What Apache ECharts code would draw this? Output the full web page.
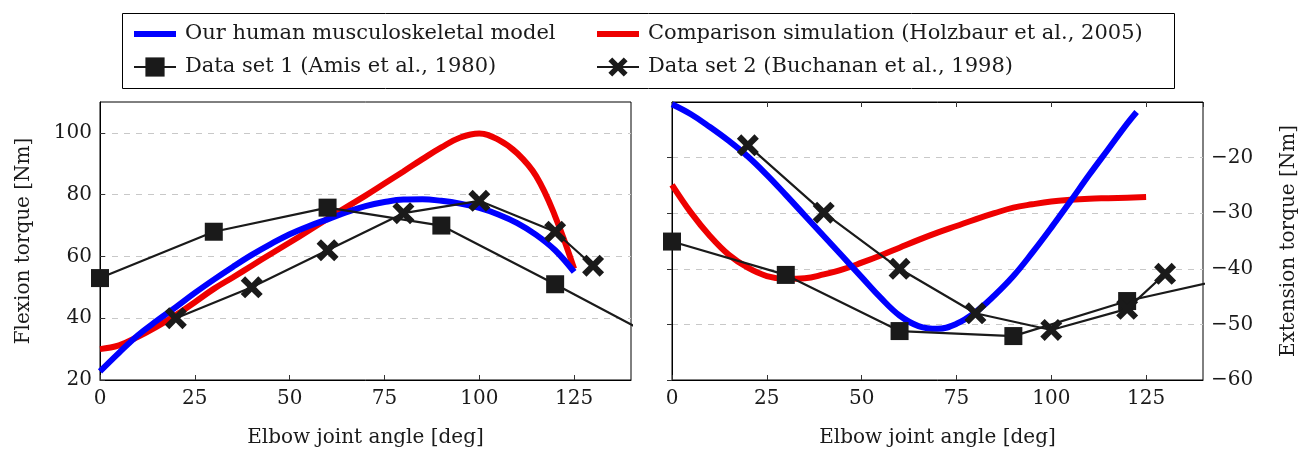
<!DOCTYPE html>
<html lang="en">
<head>
    <meta charset="UTF-8">
    <title>Elbow torque</title>
    <script src="https://cdn.jsdelivr.net/npm/echarts@6/dist/echarts.min.js"></script>
</head>
<body style="margin: 0;">
<div id="main" style="width: 1311px; height: 453px;"></div>
</body>
<script>
    // ---- data: flexion (left) ----
    var flexModelX = [0, 5, 10, 15, 20, 25, 30, 35, 40, 45, 50, 55, 60, 65, 70, 75, 80, 85, 90, 95, 100, 105, 110, 115, 120, 125]
    var flexModelY = [22.8, 28.8, 34.5, 39.2, 43.6, 48.2, 52.5, 56.6, 60.5, 64, 67.2, 69.8, 72, 74.3, 76.3, 77.6, 78.4, 78.5, 78, 77.1, 75.7, 73.6, 70.8, 67, 62, 55]
    var flexHolzX = [0, 5, 10, 15, 20, 25, 30, 35, 40, 45, 50, 55, 60, 65, 70, 75, 80, 85, 90, 95, 100, 105, 110, 115, 120, 125]
    var flexHolzY = [30, 31.2, 34, 37.3, 41, 45.2, 49.5, 53.2, 57, 60.8, 64.5, 68.3, 72.2, 76, 79.7, 83.6, 87.5, 91.5, 95.3, 98.5, 99.8, 97.8, 93.4, 86, 73, 56]
    var flexAmis = [[0, 53], [30, 68], [60, 75.8], [90, 70], [120, 51], [150, 31.5]]
    var flexBuchanan = [[20, 40], [40, 50], [60, 62], [80, 74], [100, 78], [120, 68], [130, 57]]

    // ---- data: extension (right) ----
    var extModelX = [0, 5, 10, 15, 20, 25, 30, 35, 40, 45, 50, 55, 60, 65, 70, 75, 80, 85, 90, 95, 100, 105, 110, 115, 120, 122.5]
    var extModelY = [-10.4, -12.2, -14.5, -17, -19.8, -23.1, -26.7, -30.4, -34.1, -37.8, -41.5, -45.2, -48.4, -50.3, -50.8, -49.9, -47.8, -44.8, -41.3, -37.1, -32.6, -27.9, -23.1, -18.5, -13.9, -11.8]
    var extHolzX = [0, 5, 10, 15, 20, 25, 30, 35, 40, 45, 50, 55, 60, 65, 70, 75, 80, 85, 90, 95, 100, 105, 110, 115, 120, 125]
    var extHolzY = [-24.9, -29.9, -34.1, -37.5, -39.8, -41.3, -41.8, -41.7, -41, -40.1, -38.9, -37.6, -36.2, -34.8, -33.5, -32.3, -31.1, -30, -29, -28.4, -27.9, -27.6, -27.4, -27.3, -27.2, -27.1]
    var extAmis = [[0, -35.1], [30, -41.1], [60, -51.2], [90, -52.1], [120, -45.8], [150, -41.2]]
    var extBuchanan = [[20, -17.8], [40, -29.9], [60, -40], [80, -48], [100, -51], [120, -47.2], [130, -40.9]]

    var names = ['Our human musculoskeletal model', 'Comparison simulation (Holzbaur et al., 2005)',
        'Data set 1 (Amis et al., 1980)', 'Data set 2 (Buchanan et al., 1998)']

    function zip(xs, ys) {
        return xs.map(function (x, i) { return [x, ys[i]] })
    }

    var font = 'DejaVu Serif'
    var ink = '#1a1a1a'
    var blue = '#0000ff'
    var red = '#ee0000'
    var crossPath = 'path://M2,0 L5,3 L8,0 L10,2 L7,5 L10,8 L8,10 L5,7 L2,10 L0,8 L3,5 L0,2 Z'
    var barIcon = 'path://M0,0 L42,0 L42,6 L0,6 Z'

    var myChart = echarts.init(document.getElementById('main'))

    function xAxisOf(grid, pos, labels) {
        return {
            type: 'value', gridIndex: grid, position: pos,
            min: 0, max: 140, interval: 25,
            name: labels ? 'Elbow joint angle [deg]' : '',
            nameLocation: 'middle', nameGap: 48,
            nameTextStyle: {color: ink, fontFamily: font, fontSize: 20},
            axisLine: {show: true, onZero: false, lineStyle: {color: '#000', width: 1}},
            axisTick: {show: true, inside: true, length: 5, lineStyle: {color: '#333'}},
            axisLabel: {show: labels, showMaxLabel: false, color: ink, fontFamily: font, fontSize: 20, margin: 9},
            splitLine: {show: false}
        }
    }

    function minus(v) {
        return String(v).replace('-', '\u2212')
    }

    var legendText = {color: ink, fontFamily: font, fontSize: 21, lineHeight: 22, padding: [0, 0, 0, 4]}

    var option = {
        animation: false,
        grid: [
            {left: 100, top: 102, width: 531, height: 280, show: true, borderColor: '#000', borderWidth: 1},
            {left: 672, top: 102, width: 531, height: 280, show: true, borderColor: '#000', borderWidth: 1}
        ],
        legend: [
            {
                orient: 'vertical', left: 133, top: 23, padding: 0,
                data: [{name: names[0], icon: barIcon}, names[2]],
                itemWidth: 42, itemHeight: 24, itemGap: 11,
                textStyle: legendText
            },
            {
                orient: 'vertical', left: 596, top: 23, padding: 0,
                data: [{name: names[1], icon: barIcon}, names[3]],
                itemWidth: 42, itemHeight: 24, itemGap: 11,
                textStyle: legendText
            }
        ],
        graphic: [
            {
                type: 'rect', left: 120, top: 11, silent: true,
                shape: {width: 1052, height: 75},
                style: {fill: 'none', stroke: '#000', lineWidth: 1}
            }
        ],
        xAxis: [
            xAxisOf(0, 'bottom', true),
            xAxisOf(1, 'bottom', true),
            xAxisOf(1, 'top', false)
        ],
        yAxis: [
            {
                type: 'value', gridIndex: 0, position: 'left',
                min: 20, max: 110, interval: 20,
                name: 'Flexion torque [Nm]', nameLocation: 'middle', nameGap: 66,
                nameTextStyle: {color: ink, fontFamily: font, fontSize: 20},
                axisLine: {show: true, lineStyle: {color: '#000'}},
                axisTick: {show: true, inside: true, length: 5, lineStyle: {color: '#333'}},
                axisLabel: {showMaxLabel: false, color: ink, fontFamily: font, fontSize: 20, margin: 8},
                splitLine: {show: true, showMaxLine: false, showMinLine: false,
                    lineStyle: {color: '#c8c8c8', width: 1, type: [6, 6]}}
            },
            {
                type: 'value', gridIndex: 1, position: 'right',
                min: -60, max: -10, interval: 10,
                name: 'Extension torque [Nm]', nameLocation: 'middle', nameGap: 76, nameRotate: 90,
                nameTextStyle: {color: ink, fontFamily: font, fontSize: 20},
                axisLine: {show: true, lineStyle: {color: '#000'}},
                axisTick: {show: true, inside: true, length: 5, lineStyle: {color: '#333'}},
                axisLabel: {showMaxLabel: false, color: ink, fontFamily: font, fontSize: 20, margin: 8, formatter: minus},
                splitLine: {show: true, showMaxLine: false, showMinLine: false,
                    lineStyle: {color: '#c8c8c8', width: 1, type: [6, 6]}}
            }
        ],
        series: [
            // ---- left ----
            {
                name: names[1], type: 'line', xAxisIndex: 0, yAxisIndex: 0, z: 2,
                data: zip(flexHolzX, flexHolzY), smooth: 0.4, showSymbol: false, symbol: 'none',
                itemStyle: {color: red}, lineStyle: {color: red, width: 6}
            },
            {
                name: names[0], type: 'line', xAxisIndex: 0, yAxisIndex: 0, z: 3,
                data: zip(flexModelX, flexModelY), smooth: 0.4, showSymbol: false, symbol: 'none',
                itemStyle: {color: blue}, lineStyle: {color: blue, width: 6}
            },
            {
                name: names[2], type: 'line', xAxisIndex: 0, yAxisIndex: 0, z: 4,
                data: flexAmis, symbol: 'rect', symbolSize: 18,
                itemStyle: {color: ink}, lineStyle: {color: ink, width: 2.2}
            },
            {
                name: names[3], type: 'line', xAxisIndex: 0, yAxisIndex: 0, z: 4,
                data: flexBuchanan, symbol: crossPath, symbolSize: 22,
                itemStyle: {color: ink}, lineStyle: {color: ink, width: 2.2}
            },
            // ---- right ----
            {
                name: names[1], type: 'line', xAxisIndex: 1, yAxisIndex: 1, z: 2,
                data: zip(extHolzX, extHolzY), smooth: 0.4, showSymbol: false, symbol: 'none',
                itemStyle: {color: red}, lineStyle: {color: red, width: 6}
            },
            {
                name: names[0], type: 'line', xAxisIndex: 1, yAxisIndex: 1, z: 3,
                data: zip(extModelX, extModelY), smooth: 0.4, showSymbol: false, symbol: 'none',
                itemStyle: {color: blue}, lineStyle: {color: blue, width: 6}
            },
            {
                name: names[2], type: 'line', xAxisIndex: 1, yAxisIndex: 1, z: 4,
                data: extAmis, symbol: 'rect', symbolSize: 18,
                itemStyle: {color: ink}, lineStyle: {color: ink, width: 2.2}
            },
            {
                name: names[3], type: 'line', xAxisIndex: 1, yAxisIndex: 1, z: 4,
                data: extBuchanan, symbol: crossPath, symbolSize: 22,
                itemStyle: {color: ink}, lineStyle: {color: ink, width: 2.2}
            }
        ]
    };
    myChart.setOption(option);
</script>
</html>
